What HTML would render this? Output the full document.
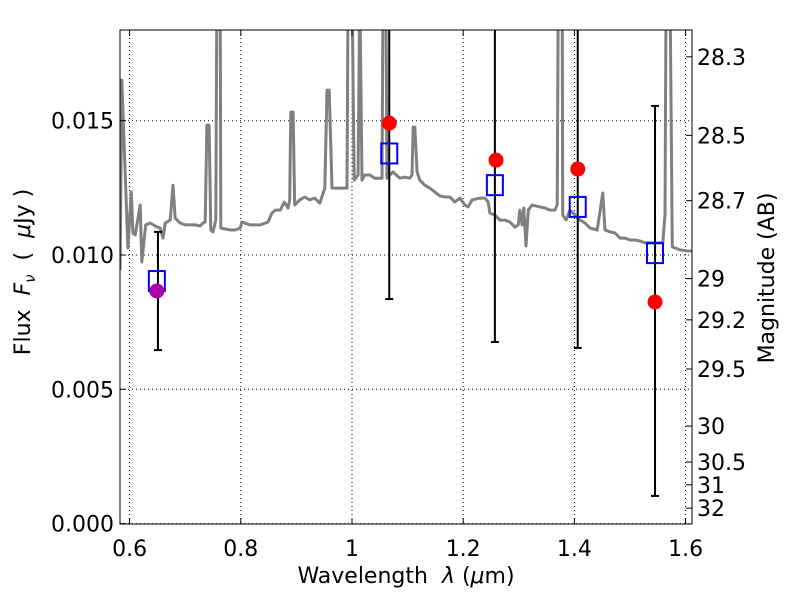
<!DOCTYPE html>
<html><head><meta charset="utf-8"><style>body{margin:0;background:#fff}svg{display:block;font-family:"DejaVu Sans","Liberation Sans",sans-serif}</style></head>
<body>
<svg id="chart" width="800" height="600" viewBox="0 0 800 600" xmlns="http://www.w3.org/2000/svg"></svg>
<script>
const specWave=[0.583,0.586,0.597,0.603,0.606,0.610,0.619,0.622,0.629,0.637,0.646,0.655,0.660,0.664,0.673,0.678,0.682,0.691,0.700,0.718,0.727,0.732,0.736,0.739,0.743,0.746,0.750,0.755,0.757,0.763,0.764,0.781,0.790,0.799,0.802,0.817,0.835,0.849,0.856,0.862,0.871,0.878,0.885,0.888,0.890,0.894,0.897,0.906,0.915,0.924,0.933,0.942,0.951,0.955,0.959,0.964,0.978,0.987,0.991,0.993,1.000,1.004,1.011,1.014,1.018,1.023,1.032,1.041,1.050,1.054,1.056,1.061,1.063,1.068,1.074,1.086,1.095,1.104,1.108,1.110,1.113,1.117,1.122,1.131,1.140,1.149,1.158,1.167,1.176,1.185,1.194,1.203,1.209,1.216,1.230,1.239,1.245,1.248,1.257,1.266,1.275,1.284,1.293,1.299,1.302,1.306,1.309,1.313,1.317,1.324,1.338,1.347,1.356,1.365,1.369,1.371,1.378,1.379,1.385,1.392,1.401,1.410,1.419,1.428,1.441,1.451,1.455,1.464,1.473,1.482,1.491,1.500,1.509,1.518,1.527,1.545,1.559,1.563,1.565,1.572,1.576,1.590,1.604,1.612];
const specFlux=[0.00944,0.01651,0.01026,0.01235,0.01082,0.01075,0.01186,0.00974,0.01112,0.01119,0.01108,0.01100,0.01063,0.01119,0.01130,0.01260,0.01137,0.01119,0.01112,0.01112,0.01108,0.01119,0.01123,0.01483,0.01483,0.01093,0.01086,0.01130,0.02,0.02,0.01100,0.01093,0.01093,0.01100,0.01123,0.01112,0.01112,0.01123,0.01156,0.01167,0.01167,0.01197,0.01175,0.01205,0.01532,0.01532,0.01186,0.01205,0.01216,0.01205,0.01212,0.01193,0.01249,0.01614,0.01614,0.01249,0.01249,0.01249,0.01249,0.02,0.02,0.01279,0.01298,0.02,0.01279,0.01298,0.01298,0.01286,0.01286,0.01286,0.02,0.02,0.01286,0.01298,0.01309,0.01286,0.01290,0.01286,0.01298,0.01476,0.01476,0.01309,0.01279,0.01260,0.01249,0.01235,0.01220,0.01216,0.01216,0.01197,0.01212,0.01186,0.01179,0.01205,0.01212,0.01212,0.01197,0.01156,0.01149,0.01130,0.01130,0.01123,0.01104,0.01112,0.01167,0.01112,0.01175,0.01034,0.01167,0.01186,0.01179,0.01175,0.01167,0.01167,0.01186,0.02,0.02,0.01149,0.01130,0.01167,0.01149,0.01130,0.01119,0.01100,0.01093,0.01231,0.01093,0.01086,0.01082,0.01063,0.01063,0.01056,0.01056,0.01052,0.01045,0.01045,0.01045,0.01149,0.02,0.02,0.01030,0.01019,0.01015,0.01015];
const obsWave=[1.067,1.259,1.406,1.545];
const obsFlux=[0.01491,0.01353,0.01320,0.00825];
const extraWave=[0.649];
const extraFlux=[0.00866];
const modelWave=[0.649,1.067,1.257,1.406,1.545];
const modelFlux=[0.00903,0.01378,0.01260,0.01179,0.01007];
const errWave=[0.651,1.067,1.257,1.406,1.545];
const errLow=[0.00646,0.00836,0.00676,0.00654,0.00103];
const errHigh=[0.01086,0.03,0.03,0.03,0.01555];
const xTicks=[0.6,0.8,1.0,1.2,1.4,1.6];
const xTickLabels=["0.6","0.8","1","1.2","1.4","1.6"];
const yTicks=[0,0.005,0.010,0.015];
const yTickLabels=["0.000","0.005","0.010","0.015"];
const magTicks=[28.3,28.5,28.7,29,29.2,29.5,30,30.5,31,32];
const magLabels=["28.3","28.5","28.7","29","29.2","29.5","30","30.5","31","32"];

const L=120,R=692,T=30,B=524;
const X=v=>352+(v-1.0)*556;
const Y=v=>523.6-v*26860;
const svg=document.getElementById('chart');
const NS='http://www.w3.org/2000/svg';
function mk(tag,attrs,parent){const e=document.createElementNS(NS,tag);for(const k in attrs)e.setAttribute(k,attrs[k]);(parent||svg).appendChild(e);return e;}
const defs=mk('defs',{});const cp=mk('clipPath',{id:'clip'},defs);mk('rect',{x:L,y:T,width:R-L,height:B-T},cp);

const grid=mk('g',{stroke:'#000','stroke-width':1,'stroke-dasharray':'1,3'});


xTicks.forEach(t=>mk('line',{x1:X(t),x2:X(t),y1:T,y2:B},grid));
yTicks.forEach(t=>mk('line',{x1:L,x2:R,y1:Y(t),y2:Y(t)},grid));

const plot=mk('g',{'clip-path':'url(#clip)'});
const sp=mk('path',{d:specWave.map((w,i)=>(i?'L':'M')+X(w).toFixed(1)+','+Y(specFlux[i]).toFixed(1)).join(''),fill:'none',stroke:'#808080','stroke-width':3,'stroke-linejoin':'round'},plot);


errWave.forEach((w,i)=>{
 const g=mk('g',{stroke:'#000','stroke-width':2},plot);
 
 
 mk('line',{x1:X(w),x2:X(w),y1:Y(errLow[i]),y2:Y(errHigh[i])},g);
 mk('line',{x1:X(w)-4,x2:X(w)+4,y1:Y(errLow[i]),y2:Y(errLow[i])},g);
 mk('line',{x1:X(w)-4,x2:X(w)+4,y1:Y(errHigh[i]),y2:Y(errHigh[i])},g);
});
modelWave.forEach((w,i)=>{
 const r=mk('rect',{x:X(w)-8,y:Y(modelFlux[i])-10,width:16,height:20,fill:'none',stroke:'#0000ff','stroke-width':2},plot);
 
 
});
obsWave.forEach((w,i)=>{
 const c=mk('circle',{cx:X(w),cy:Y(obsFlux[i]),r:7.5,fill:'#ff0000'},plot);
 
 
});
extraWave.forEach((w,i)=>{
 const c=mk('circle',{cx:X(w),cy:Y(extraFlux[i]),r:7.5,fill:'#aa00aa'},plot);
 
 
});

const ax=mk('g',{stroke:'#000','stroke-width':1});


mk('rect',{x:L,y:T,width:R-L,height:B-T,fill:'none'},ax);
xTicks.forEach(t=>{mk('line',{x1:X(t),x2:X(t),y1:B,y2:B-6},ax);mk('line',{x1:X(t),x2:X(t),y1:T,y2:T+6},ax);});
yTicks.forEach(t=>mk('line',{x1:L,x2:L+6,y1:Y(t),y2:Y(t)},ax));
magTicks.forEach(m=>{const yy=Y(Math.pow(10,(23.9-m)/2.5));mk('line',{x1:R,x2:R-6,y1:yy,y2:yy},ax);});

xTicks.forEach((t,i)=>{const e=mk('text',{x:X(t),y:556,'font-size':22,'text-anchor':'middle'});e.textContent=xTickLabels[i];
 
 });
yTicks.forEach((t,i)=>{const e=mk('text',{x:114,y:Y(t)+8,'font-size':22,'text-anchor':'end'});e.textContent=yTickLabels[i];
 
 });
magTicks.forEach((m,i)=>{const yy=Y(Math.pow(10,(23.9-m)/2.5));const e=mk('text',{x:697,y:yy+8,'font-size':22});e.textContent=magLabels[i];
 
 });
</script>
<svg style="position:absolute;left:0;top:0" width="800" height="600" xmlns="http://www.w3.org/2000/svg">
<text x="406" y="583" font-size="22" text-anchor="middle" font-family="DejaVu Sans, sans-serif">Wavelength&#160;&#160;<tspan font-style="italic">λ</tspan> (<tspan font-style="italic">μ</tspan>m)</text>
<text transform="translate(30,272) rotate(-90)" font-size="22" text-anchor="middle" font-family="DejaVu Sans, sans-serif">Flux&#160;&#160;<tspan font-style="italic">F</tspan><tspan font-style="italic" font-size="15" dy="5">ν</tspan><tspan dy="-5">&#160;&#160;(&#160;&#160;</tspan><tspan font-style="italic">μ</tspan>Jy )</text>
<text transform="translate(774,278) rotate(-90)" font-size="22" text-anchor="middle" font-family="DejaVu Sans, sans-serif">Magnitude (AB)</text>
</svg>
</body></html>
